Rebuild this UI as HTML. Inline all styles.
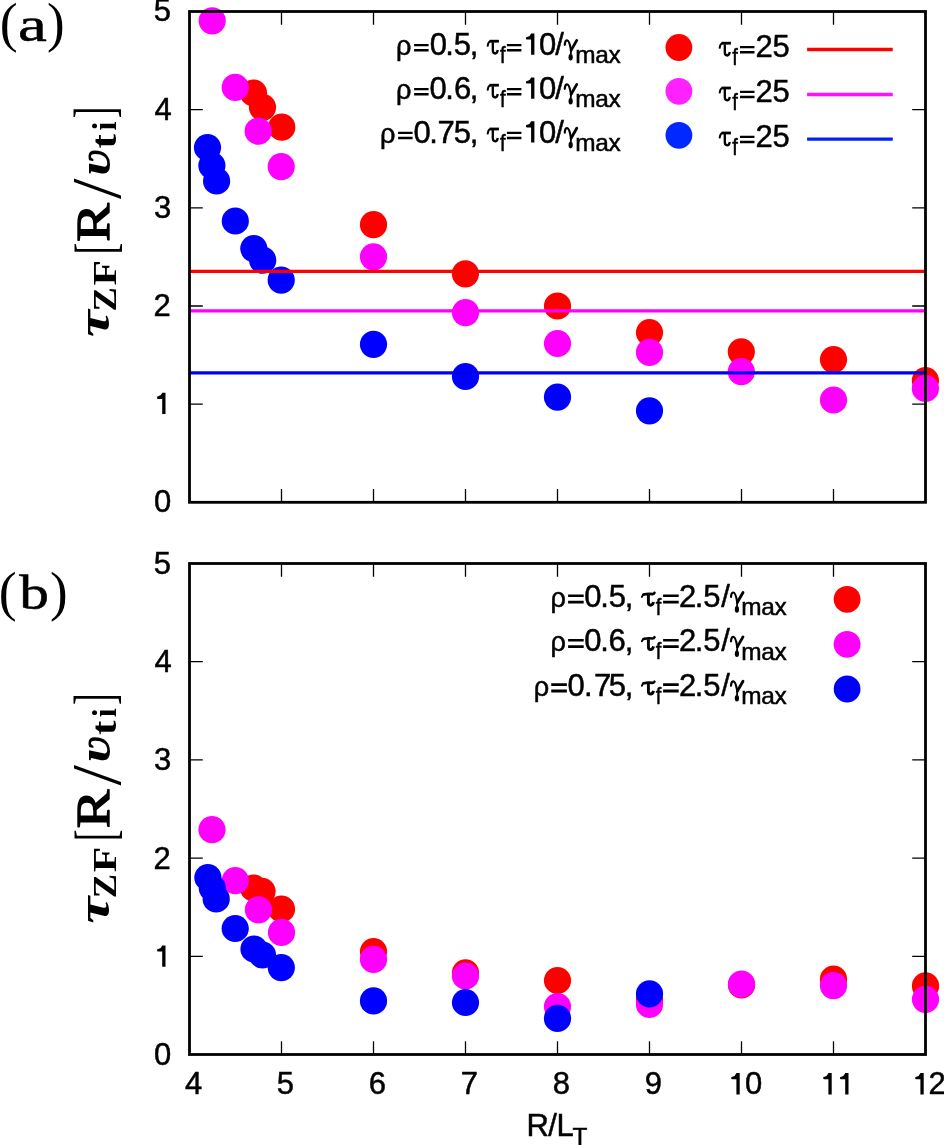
<!DOCTYPE html>
<html><head><meta charset="utf-8"><title>plot</title><style>html,body{margin:0;padding:0;background:#fff;overflow:hidden;}svg{display:block;}</style></head>
<body><svg width="944" height="1145" viewBox="0 0 944 1145">
<rect width="944" height="1145" fill="#fff"/>
<circle cx="253.5" cy="93" r="13.6" fill="#ff0000"/>
<circle cx="262.5" cy="107.35" r="13.6" fill="#ff0000"/>
<circle cx="281.75" cy="127.2" r="13.6" fill="#ff0000"/>
<circle cx="373.5" cy="224.7" r="13.6" fill="#ff0000"/>
<circle cx="465.4" cy="273.8" r="13.6" fill="#ff0000"/>
<circle cx="557.5" cy="306" r="13.6" fill="#ff0000"/>
<circle cx="649.5" cy="332.6" r="13.6" fill="#ff0000"/>
<circle cx="741.3" cy="351.8" r="13.6" fill="#ff0000"/>
<circle cx="833.5" cy="359.6" r="13.6" fill="#ff0000"/>
<circle cx="925.4" cy="380.6" r="13.6" fill="#ff0000"/>
<circle cx="212.2" cy="20.8" r="13.6" fill="#ff00ff"/>
<circle cx="235.25" cy="87.4" r="13.6" fill="#ff00ff"/>
<circle cx="258.2" cy="131.2" r="13.6" fill="#ff00ff"/>
<circle cx="281.2" cy="166.6" r="13.6" fill="#ff00ff"/>
<circle cx="373.5" cy="256.8" r="13.6" fill="#ff00ff"/>
<circle cx="465.5" cy="312.6" r="13.6" fill="#ff00ff"/>
<circle cx="557.5" cy="343.5" r="13.6" fill="#ff00ff"/>
<circle cx="649.5" cy="352.4" r="13.6" fill="#ff00ff"/>
<circle cx="741.3" cy="371.7" r="13.6" fill="#ff00ff"/>
<circle cx="833.5" cy="400" r="13.6" fill="#ff00ff"/>
<circle cx="925.4" cy="388.5" r="13.6" fill="#ff00ff"/>
<circle cx="207.5" cy="147.5" r="13.6" fill="#0000ff"/>
<circle cx="211.9" cy="165.6" r="13.6" fill="#0000ff"/>
<circle cx="216.6" cy="181" r="13.6" fill="#0000ff"/>
<circle cx="235.3" cy="221" r="13.6" fill="#0000ff"/>
<circle cx="253.8" cy="248.6" r="13.6" fill="#0000ff"/>
<circle cx="262.7" cy="260.2" r="13.6" fill="#0000ff"/>
<circle cx="281.2" cy="280.1" r="13.6" fill="#0000ff"/>
<circle cx="373.5" cy="344.3" r="13.6" fill="#0000ff"/>
<circle cx="465.5" cy="376.5" r="13.6" fill="#0000ff"/>
<circle cx="557.5" cy="397.1" r="13.6" fill="#0000ff"/>
<circle cx="649.5" cy="410.8" r="13.6" fill="#0000ff"/>
<path d="M189.5 271.45H925.5" stroke="#ff0000" stroke-width="3.3"/>
<path d="M189.5 310.8H925.5" stroke="#ff00ff" stroke-width="3.3"/>
<path d="M189.5 372.8H925.5" stroke="#0000f0" stroke-width="3.3"/>
<path d="M281.50 502.3V489.0M281.50 11.5V24.8M373.50 502.3V489.0M373.50 11.5V24.8M465.50 502.3V489.0M465.50 11.5V24.8M557.50 502.3V489.0M557.50 11.5V24.8M649.50 502.3V489.0M649.50 11.5V24.8M741.50 502.3V489.0M741.50 11.5V24.8M833.50 502.3V489.0M833.50 11.5V24.8M189.5 404.14H202.8M925.5 404.14H912.2M189.5 305.98H202.8M925.5 305.98H912.2M189.5 207.82H202.8M925.5 207.82H912.2M189.5 109.66H202.8M925.5 109.66H912.2" stroke="#000" stroke-width="1.3" fill="none"/>
<rect x="189.5" y="11.5" width="736.0" height="490.8" fill="none" stroke="#000" stroke-width="2.8"/>
<path d="M162.2 414.04V398.94H157.9Q157 398.94 157 397.64Q157 396.34 158.3 396.34Q161 395.94 162.3 392.74H165.5V414.04Z" fill="#000"/>
<path d="M414.1 43.95h14.5v2.2h-14.5zM414.1 48.95h14.5v2.55h-14.5z" fill="#000"/>
<path d="M489.5 41.2H498.9" stroke="#000" stroke-width="2.8" fill="none"/>
<path d="M487.7 45.8Q488.4 41.3 490.5 41.2" stroke="#000" stroke-width="2.0" fill="none" stroke-linecap="round"/>
<path d="M492.8 42.2V50.3Q492.8 53.5 495.2 53.5Q497.1 53.5 497.8 50.1" stroke="#000" stroke-width="2.3" fill="none"/>
<path d="M506.9 43.95h14.5v2.2h-14.5zM506.9 48.95h14.5v2.55h-14.5z" fill="#000"/>
<path d="M531.1 54.7V39.6H526.8Q525.9 39.6 525.9 38.3Q525.9 37 527.2 37Q529.9 36.6 531.2 33.4H534.4V54.7Z" fill="#000"/>
<path d="M564.75 44.8Q565.05 40.4 567.15 40.4Q569.35 40.4 571.05 50.4" stroke="#000" stroke-width="2.2" fill="none" stroke-linecap="round"/>
<path d="M576.75 40.4L571.05 50.4" stroke="#000" stroke-width="2.8" fill="none" stroke-linecap="round"/>
<path d="M571.05 50.2L570.75 54.7" stroke="#000" stroke-width="1.8" fill="none"/>
<ellipse cx="570.65" cy="57.3" rx="2.1" ry="3.3" fill="#000"/>
<path d="M414.1 87.95h14.5v2.2h-14.5zM414.1 92.95h14.5v2.55h-14.5z" fill="#000"/>
<path d="M489.5 85.2H498.9" stroke="#000" stroke-width="2.8" fill="none"/>
<path d="M487.7 89.8Q488.4 85.3 490.5 85.2" stroke="#000" stroke-width="2.0" fill="none" stroke-linecap="round"/>
<path d="M492.8 86.2V94.3Q492.8 97.5 495.2 97.5Q497.1 97.5 497.8 94.1" stroke="#000" stroke-width="2.3" fill="none"/>
<path d="M506.9 87.95h14.5v2.2h-14.5zM506.9 92.95h14.5v2.55h-14.5z" fill="#000"/>
<path d="M531.1 98.7V83.6H526.8Q525.9 83.6 525.9 82.3Q525.9 81 527.2 81Q529.9 80.6 531.2 77.4H534.4V98.7Z" fill="#000"/>
<path d="M564.75 88.8Q565.05 84.4 567.15 84.4Q569.35 84.4 571.05 94.4" stroke="#000" stroke-width="2.2" fill="none" stroke-linecap="round"/>
<path d="M576.75 84.4L571.05 94.4" stroke="#000" stroke-width="2.8" fill="none" stroke-linecap="round"/>
<path d="M571.05 94.2L570.75 98.7" stroke="#000" stroke-width="1.8" fill="none"/>
<ellipse cx="570.65" cy="101.3" rx="2.1" ry="3.3" fill="#000"/>
<path d="M398.1 131.75h14.5v2.2h-14.5zM398.1 136.75h14.5v2.55h-14.5z" fill="#000"/>
<path d="M489.5 129H498.9" stroke="#000" stroke-width="2.8" fill="none"/>
<path d="M487.7 133.6Q488.4 129.1 490.5 129" stroke="#000" stroke-width="2.0" fill="none" stroke-linecap="round"/>
<path d="M492.8 130V138.1Q492.8 141.3 495.2 141.3Q497.1 141.3 497.8 137.9" stroke="#000" stroke-width="2.3" fill="none"/>
<path d="M506.9 131.75h14.5v2.2h-14.5zM506.9 136.75h14.5v2.55h-14.5z" fill="#000"/>
<path d="M531.1 142.5V127.4H526.8Q525.9 127.4 525.9 126.1Q525.9 124.8 527.2 124.8Q529.9 124.4 531.2 121.2H534.4V142.5Z" fill="#000"/>
<path d="M564.75 132.6Q565.05 128.2 567.15 128.2Q569.35 128.2 571.05 138.2" stroke="#000" stroke-width="2.2" fill="none" stroke-linecap="round"/>
<path d="M576.75 128.2L571.05 138.2" stroke="#000" stroke-width="2.8" fill="none" stroke-linecap="round"/>
<path d="M571.05 138L570.75 142.5" stroke="#000" stroke-width="1.8" fill="none"/>
<ellipse cx="570.65" cy="145.1" rx="2.1" ry="3.3" fill="#000"/>
<circle cx="678.9" cy="47.5" r="13.4" fill="#ff0000"/>
<circle cx="678.9" cy="91.3" r="13.4" fill="#ff22ff"/>
<circle cx="678.9" cy="135.3" r="13.4" fill="#0028ff"/>
<path d="M721.5 43.2H730.9" stroke="#000" stroke-width="2.8" fill="none"/>
<path d="M719.7 47.8Q720.4 43.3 722.5 43.2" stroke="#000" stroke-width="2.0" fill="none" stroke-linecap="round"/>
<path d="M724.8 44.2V52.3Q724.8 55.5 727.2 55.5Q729.1 55.5 729.8 52.1" stroke="#000" stroke-width="2.3" fill="none"/>
<path d="M740 45.95h14.5v2.2h-14.5zM740 50.95h14.5v2.55h-14.5z" fill="#000"/>
<path d="M721.5 88H730.9" stroke="#000" stroke-width="2.8" fill="none"/>
<path d="M719.7 92.6Q720.4 88.1 722.5 88" stroke="#000" stroke-width="2.0" fill="none" stroke-linecap="round"/>
<path d="M724.8 89V97.1Q724.8 100.3 727.2 100.3Q729.1 100.3 729.8 96.9" stroke="#000" stroke-width="2.3" fill="none"/>
<path d="M740 90.75h14.5v2.2h-14.5zM740 95.75h14.5v2.55h-14.5z" fill="#000"/>
<path d="M721.5 133H730.9" stroke="#000" stroke-width="2.8" fill="none"/>
<path d="M719.7 137.6Q720.4 133.1 722.5 133" stroke="#000" stroke-width="2.0" fill="none" stroke-linecap="round"/>
<path d="M724.8 134V142.1Q724.8 145.3 727.2 145.3Q729.1 145.3 729.8 141.9" stroke="#000" stroke-width="2.3" fill="none"/>
<path d="M740 135.75h14.5v2.2h-14.5zM740 140.75h14.5v2.55h-14.5z" fill="#000"/>
<path d="M807.1 49.5H892.75" stroke="#ff0000" stroke-width="3.4"/>
<path d="M807.1 94.5H892.75" stroke="#ff10ff" stroke-width="3.4"/>
<path d="M807.1 139.1H892.75" stroke="#0020f8" stroke-width="3.4"/>
<circle cx="253.5" cy="888" r="13.6" fill="#ff0000"/>
<circle cx="262" cy="891.3" r="13.6" fill="#ff0000"/>
<circle cx="281.5" cy="909" r="13.6" fill="#ff0000"/>
<circle cx="373.5" cy="951.7" r="13.6" fill="#ff0000"/>
<circle cx="465.5" cy="972.8" r="13.6" fill="#ff0000"/>
<circle cx="557.5" cy="980.5" r="13.6" fill="#ff0000"/>
<circle cx="649.5" cy="999" r="13.6" fill="#ff0000"/>
<circle cx="741.5" cy="985" r="13.6" fill="#ff0000"/>
<circle cx="833.5" cy="979.2" r="13.6" fill="#ff0000"/>
<circle cx="925.5" cy="985.9" r="13.6" fill="#ff0000"/>
<circle cx="212" cy="829.7" r="13.6" fill="#ff00ff"/>
<circle cx="235.3" cy="880.7" r="13.6" fill="#ff00ff"/>
<circle cx="258.4" cy="909.8" r="13.6" fill="#ff00ff"/>
<circle cx="281.5" cy="932.4" r="13.6" fill="#ff00ff"/>
<circle cx="373.5" cy="959.4" r="13.6" fill="#ff00ff"/>
<circle cx="465.5" cy="976" r="13.6" fill="#ff00ff"/>
<circle cx="557.5" cy="1006.5" r="13.6" fill="#ff00ff"/>
<circle cx="649.5" cy="1004.4" r="13.6" fill="#ff00ff"/>
<circle cx="741.5" cy="984.2" r="13.6" fill="#ff00ff"/>
<circle cx="833.5" cy="985.6" r="13.6" fill="#ff00ff"/>
<circle cx="925.5" cy="999.3" r="13.6" fill="#ff00ff"/>
<circle cx="207.9" cy="877.5" r="13.6" fill="#0000ff"/>
<circle cx="212.3" cy="888" r="13.6" fill="#0000ff"/>
<circle cx="216.2" cy="898.9" r="13.6" fill="#0000ff"/>
<circle cx="235.2" cy="928.5" r="13.6" fill="#0000ff"/>
<circle cx="254" cy="949" r="13.6" fill="#0000ff"/>
<circle cx="262.5" cy="955" r="13.6" fill="#0000ff"/>
<circle cx="281.3" cy="967.6" r="13.6" fill="#0000ff"/>
<circle cx="373.5" cy="1000.9" r="13.6" fill="#0000ff"/>
<circle cx="465.5" cy="1002.5" r="13.6" fill="#0000ff"/>
<circle cx="557.5" cy="1018.4" r="13.6" fill="#0000ff"/>
<circle cx="649.5" cy="993.8" r="13.6" fill="#0000ff"/>
<path d="M281.50 1054.5V1041.2M281.50 563.5V576.8M373.50 1054.5V1041.2M373.50 563.5V576.8M465.50 1054.5V1041.2M465.50 563.5V576.8M557.50 1054.5V1041.2M557.50 563.5V576.8M649.50 1054.5V1041.2M649.50 563.5V576.8M741.50 1054.5V1041.2M741.50 563.5V576.8M833.50 1054.5V1041.2M833.50 563.5V576.8M189.5 956.30H202.8M925.5 956.30H912.2M189.5 858.10H202.8M925.5 858.10H912.2M189.5 759.90H202.8M925.5 759.90H912.2M189.5 661.70H202.8M925.5 661.70H912.2" stroke="#000" stroke-width="1.3" fill="none"/>
<rect x="189.5" y="563.5" width="736.0" height="491.0" fill="none" stroke="#000" stroke-width="2.8"/>
<path d="M162.2 966.7V951.6H157.9Q157 951.6 157 950.3Q157 949 158.3 949Q161 948.6 162.3 945.4H165.5V966.7Z" fill="#000"/>
<path d="M568.1 594.5h15.6v2.6h-15.6zM568.1 600.8h15.6v2.8h-15.6z" fill="#000"/>
<path d="M643.5 594.5Q648.1 593.4 652.7 594.1Q654 594.1 654.5 592.8" stroke="#000" stroke-width="2.6" fill="none" stroke-linecap="round"/>
<path d="M641.9 596.9Q642.5 594.6 644.5 594.3" stroke="#000" stroke-width="2.0" fill="none" stroke-linecap="round"/>
<path d="M648.4 594.8V602.6Q648.4 605.2 650.7 605.2Q652.7 605.2 653.5 602" stroke="#000" stroke-width="2.9" fill="none"/>
<path d="M663.1 594.5h15.6v2.6h-15.6zM663.1 600.8h15.6v2.8h-15.6z" fill="#000"/>
<path d="M731 596.9Q731.3 592.5 733.4 592.5Q735.6 592.5 737.3 602.5" stroke="#000" stroke-width="2.2" fill="none" stroke-linecap="round"/>
<path d="M743 592.5L737.3 602.5" stroke="#000" stroke-width="2.8" fill="none" stroke-linecap="round"/>
<path d="M737.3 602.3L737 606.8" stroke="#000" stroke-width="1.8" fill="none"/>
<ellipse cx="736.9" cy="609.4" rx="2.1" ry="3.3" fill="#000"/>
<path d="M568.1 638.9h15.6v2.6h-15.6zM568.1 645.2h15.6v2.8h-15.6z" fill="#000"/>
<path d="M643.5 638.9Q648.1 637.8 652.7 638.5Q654 638.5 654.5 637.2" stroke="#000" stroke-width="2.6" fill="none" stroke-linecap="round"/>
<path d="M641.9 641.3Q642.5 639 644.5 638.7" stroke="#000" stroke-width="2.0" fill="none" stroke-linecap="round"/>
<path d="M648.4 639.2V647Q648.4 649.6 650.7 649.6Q652.7 649.6 653.5 646.4" stroke="#000" stroke-width="2.9" fill="none"/>
<path d="M663.1 638.9h15.6v2.6h-15.6zM663.1 645.2h15.6v2.8h-15.6z" fill="#000"/>
<path d="M731 641.3Q731.3 636.9 733.4 636.9Q735.6 636.9 737.3 646.9" stroke="#000" stroke-width="2.2" fill="none" stroke-linecap="round"/>
<path d="M743 636.9L737.3 646.9" stroke="#000" stroke-width="2.8" fill="none" stroke-linecap="round"/>
<path d="M737.3 646.7L737 651.2" stroke="#000" stroke-width="1.8" fill="none"/>
<ellipse cx="736.9" cy="653.8" rx="2.1" ry="3.3" fill="#000"/>
<path d="M551.25 683.3h15.6v2.6h-15.6zM551.25 689.6h15.6v2.8h-15.6z" fill="#000"/>
<path d="M643.5 683.3Q648.1 682.2 652.7 682.9Q654 682.9 654.5 681.6" stroke="#000" stroke-width="2.6" fill="none" stroke-linecap="round"/>
<path d="M641.9 685.7Q642.5 683.4 644.5 683.1" stroke="#000" stroke-width="2.0" fill="none" stroke-linecap="round"/>
<path d="M648.4 683.6V691.4Q648.4 694 650.7 694Q652.7 694 653.5 690.8" stroke="#000" stroke-width="2.9" fill="none"/>
<path d="M663.1 683.3h15.6v2.6h-15.6zM663.1 689.6h15.6v2.8h-15.6z" fill="#000"/>
<path d="M731 685.7Q731.3 681.3 733.4 681.3Q735.6 681.3 737.3 691.3" stroke="#000" stroke-width="2.2" fill="none" stroke-linecap="round"/>
<path d="M743 681.3L737.3 691.3" stroke="#000" stroke-width="2.8" fill="none" stroke-linecap="round"/>
<path d="M737.3 691.1L737 695.6" stroke="#000" stroke-width="1.8" fill="none"/>
<ellipse cx="736.9" cy="698.2" rx="2.1" ry="3.3" fill="#000"/>
<circle cx="847.1" cy="599.3" r="13.4" fill="#ff0000"/>
<circle cx="847.1" cy="644.3" r="13.4" fill="#ff00ff"/>
<circle cx="847.1" cy="689" r="13.4" fill="#0000ff"/>
<path d="M736.4 1094.4V1079.3H732.1Q731.2 1079.3 731.2 1078Q731.2 1076.7 732.5 1076.7Q735.2 1076.3 736.5 1073.1H739.7V1094.4Z" fill="#000"/>
<path d="M828.4 1094.4V1079.3H824.1Q823.2 1079.3 823.2 1078Q823.2 1076.7 824.5 1076.7Q827.2 1076.3 828.5 1073.1H831.7V1094.4Z" fill="#000"/>
<path d="M845.2 1094.4V1079.3H840.9Q840 1079.3 840 1078Q840 1076.7 841.3 1076.7Q844 1076.3 845.3 1073.1H848.5V1094.4Z" fill="#000"/>
<path d="M920.4 1094.4V1079.3H916.1Q915.2 1079.3 915.2 1078Q915.2 1076.7 916.5 1076.7Q919.2 1076.3 920.5 1073.1H923.7V1094.4Z" fill="#000"/>
<g opacity="0.999">
<text font-family="Liberation Sans, sans-serif" stroke="#000" stroke-width="0.5"><tspan x="153.89" y="512.2" font-size="31.0">0</tspan></text>
<text font-family="Liberation Sans, sans-serif" stroke="#000" stroke-width="0.5"></text>
<text font-family="Liberation Sans, sans-serif" stroke="#000" stroke-width="0.5"><tspan x="153.54" y="315.88" font-size="31.0">2</tspan></text>
<text font-family="Liberation Sans, sans-serif" stroke="#000" stroke-width="0.5"><tspan x="153.92" y="217.72" font-size="31.0">3</tspan></text>
<text font-family="Liberation Sans, sans-serif" stroke="#000" stroke-width="0.5"><tspan x="154.39" y="119.56" font-size="31.0">4</tspan></text>
<text font-family="Liberation Sans, sans-serif" stroke="#000" stroke-width="0.5"><tspan x="153.86" y="21.4" font-size="31.0">5</tspan></text>
<text transform="matrix(0.01325,0,0,0.01394,396.001,54.726)" font-family="Liberation Sans, sans-serif"  font-size="2048" stroke="#000" stroke-width="36.79" stroke-linejoin="round">&#961;</text>
<text transform="matrix(0.00976,0,0,0.01127,499.967,62.850)" font-family="Liberation Sans, sans-serif"  font-size="2048" stroke="#000" stroke-width="47.68" stroke-linejoin="round">f</text>
<text font-family="Liberation Sans, sans-serif" stroke="#000" stroke-width="0.5"><tspan x="429.69" y="54.7" font-size="31.0">0</tspan><tspan x="445.17" y="54.7" font-size="31.0">.</tspan><tspan x="453.76" y="54.7" font-size="31.0">5</tspan><tspan x="469.71" y="54.7" font-size="31.0">,</tspan><tspan x="539.09" y="54.7" font-size="31.0">0</tspan><tspan x="555.3" y="54.7" font-size="31.0">/</tspan><tspan x="575.28" y="63.1" font-size="24.4">m</tspan><tspan x="595.21" y="63.1" font-size="24.4">a</tspan><tspan x="608.48" y="63.1" font-size="24.4">x</tspan></text>
<text transform="matrix(0.01325,0,0,0.01394,396.001,98.726)" font-family="Liberation Sans, sans-serif"  font-size="2048" stroke="#000" stroke-width="36.79" stroke-linejoin="round">&#961;</text>
<text transform="matrix(0.00976,0,0,0.01127,499.967,106.850)" font-family="Liberation Sans, sans-serif"  font-size="2048" stroke="#000" stroke-width="47.68" stroke-linejoin="round">f</text>
<text font-family="Liberation Sans, sans-serif" stroke="#000" stroke-width="0.5"><tspan x="429.49" y="98.7" font-size="31.0">0</tspan><tspan x="445.17" y="98.7" font-size="31.0">.</tspan><tspan x="453.93" y="98.7" font-size="31.0">6</tspan><tspan x="469.71" y="98.7" font-size="31.0">,</tspan><tspan x="539.09" y="98.7" font-size="31.0">0</tspan><tspan x="555.3" y="98.7" font-size="31.0">/</tspan><tspan x="575.28" y="107.1" font-size="24.4">m</tspan><tspan x="595.21" y="107.1" font-size="24.4">a</tspan><tspan x="608.48" y="107.1" font-size="24.4">x</tspan></text>
<text transform="matrix(0.01325,0,0,0.01394,380.001,142.526)" font-family="Liberation Sans, sans-serif"  font-size="2048" stroke="#000" stroke-width="36.79" stroke-linejoin="round">&#961;</text>
<text transform="matrix(0.00976,0,0,0.01127,499.967,150.650)" font-family="Liberation Sans, sans-serif"  font-size="2048" stroke="#000" stroke-width="47.68" stroke-linejoin="round">f</text>
<text font-family="Liberation Sans, sans-serif" stroke="#000" stroke-width="0.5"><tspan x="413.39" y="142.5" font-size="31.0">0</tspan><tspan x="429.17" y="142.5" font-size="31.0">.</tspan><tspan x="437.41" y="142.5" font-size="31.0">7</tspan><tspan x="453.86" y="142.5" font-size="31.0">5</tspan><tspan x="469.71" y="142.5" font-size="31.0">,</tspan><tspan x="539.09" y="142.5" font-size="31.0">0</tspan><tspan x="555.3" y="142.5" font-size="31.0">/</tspan><tspan x="575.28" y="150.9" font-size="24.4">m</tspan><tspan x="595.21" y="150.9" font-size="24.4">a</tspan><tspan x="608.48" y="150.9" font-size="24.4">x</tspan></text>
<text transform="matrix(0.00976,0,0,0.01127,732.167,64.850)" font-family="Liberation Sans, sans-serif"  font-size="2048" stroke="#000" stroke-width="47.68" stroke-linejoin="round">f</text>
<text font-family="Liberation Sans, sans-serif" stroke="#000" stroke-width="0.5"><tspan x="755.44" y="56.7" font-size="31.0">2</tspan><tspan x="772.51" y="56.7" font-size="31.0">5</tspan></text>
<text transform="matrix(0.00976,0,0,0.01127,732.167,109.650)" font-family="Liberation Sans, sans-serif"  font-size="2048" stroke="#000" stroke-width="47.68" stroke-linejoin="round">f</text>
<text font-family="Liberation Sans, sans-serif" stroke="#000" stroke-width="0.5"><tspan x="755.44" y="101.5" font-size="31.0">2</tspan><tspan x="772.51" y="101.5" font-size="31.0">5</tspan></text>
<text transform="matrix(0.00976,0,0,0.01127,732.167,154.650)" font-family="Liberation Sans, sans-serif"  font-size="2048" stroke="#000" stroke-width="47.68" stroke-linejoin="round">f</text>
<text font-family="Liberation Sans, sans-serif" stroke="#000" stroke-width="0.5"><tspan x="755.44" y="146.5" font-size="31.0">2</tspan><tspan x="772.51" y="146.5" font-size="31.0">5</tspan></text>
<text font-family="Liberation Sans, sans-serif" stroke="#000" stroke-width="0.5"><tspan x="153.89" y="1064.9" font-size="31.0">0</tspan></text>
<text font-family="Liberation Sans, sans-serif" stroke="#000" stroke-width="0.5"></text>
<text font-family="Liberation Sans, sans-serif" stroke="#000" stroke-width="0.5"><tspan x="153.54" y="868.5" font-size="31.0">2</tspan></text>
<text font-family="Liberation Sans, sans-serif" stroke="#000" stroke-width="0.5"><tspan x="153.92" y="770.3" font-size="31.0">3</tspan></text>
<text font-family="Liberation Sans, sans-serif" stroke="#000" stroke-width="0.5"><tspan x="154.39" y="672.1" font-size="31.0">4</tspan></text>
<text font-family="Liberation Sans, sans-serif" stroke="#000" stroke-width="0.5"><tspan x="153.86" y="573.9" font-size="31.0">5</tspan></text>
<text transform="matrix(0.01325,0,0,0.01394,550.601,606.826)" font-family="Liberation Sans, sans-serif"  font-size="2048" stroke="#000" stroke-width="36.79" stroke-linejoin="round">&#961;</text>
<text transform="matrix(0.00976,0,0,0.01127,655.767,614.950)" font-family="Liberation Sans, sans-serif"  font-size="2048" stroke="#000" stroke-width="47.68" stroke-linejoin="round">f</text>
<text font-family="Liberation Sans, sans-serif" stroke="#000" stroke-width="0.5"><tspan x="584.19" y="606.8" font-size="31.0">0</tspan><tspan x="600.27" y="606.8" font-size="31.0">.</tspan><tspan x="608.76" y="606.8" font-size="31.0">5</tspan><tspan x="624.71" y="606.8" font-size="31.0">,</tspan><tspan x="679.04" y="606.8" font-size="31.0">2</tspan><tspan x="694.67" y="606.8" font-size="31.0">.</tspan><tspan x="703.16" y="606.8" font-size="31.0">5</tspan><tspan x="721.25" y="606.8" font-size="31.0">/</tspan><tspan x="741.18" y="615.2" font-size="24.4">m</tspan><tspan x="761.16" y="615.2" font-size="24.4">a</tspan><tspan x="774.43" y="615.2" font-size="24.4">x</tspan></text>
<text transform="matrix(0.01325,0,0,0.01394,550.601,651.226)" font-family="Liberation Sans, sans-serif"  font-size="2048" stroke="#000" stroke-width="36.79" stroke-linejoin="round">&#961;</text>
<text transform="matrix(0.00976,0,0,0.01127,655.767,659.350)" font-family="Liberation Sans, sans-serif"  font-size="2048" stroke="#000" stroke-width="47.68" stroke-linejoin="round">f</text>
<text font-family="Liberation Sans, sans-serif" stroke="#000" stroke-width="0.5"><tspan x="584.19" y="651.2" font-size="31.0">0</tspan><tspan x="600.27" y="651.2" font-size="31.0">.</tspan><tspan x="608.43" y="651.2" font-size="31.0">6</tspan><tspan x="624.71" y="651.2" font-size="31.0">,</tspan><tspan x="679.04" y="651.2" font-size="31.0">2</tspan><tspan x="694.67" y="651.2" font-size="31.0">.</tspan><tspan x="703.16" y="651.2" font-size="31.0">5</tspan><tspan x="721.25" y="651.2" font-size="31.0">/</tspan><tspan x="741.18" y="659.6" font-size="24.4">m</tspan><tspan x="761.16" y="659.6" font-size="24.4">a</tspan><tspan x="774.43" y="659.6" font-size="24.4">x</tspan></text>
<text transform="matrix(0.01325,0,0,0.01394,533.751,695.626)" font-family="Liberation Sans, sans-serif"  font-size="2048" stroke="#000" stroke-width="36.79" stroke-linejoin="round">&#961;</text>
<text transform="matrix(0.00976,0,0,0.01127,655.767,703.750)" font-family="Liberation Sans, sans-serif"  font-size="2048" stroke="#000" stroke-width="47.68" stroke-linejoin="round">f</text>
<text font-family="Liberation Sans, sans-serif" stroke="#000" stroke-width="0.5"><tspan x="567.54" y="695.6" font-size="31.0">0</tspan><tspan x="584.07" y="695.6" font-size="31.0">.</tspan><tspan x="594.01" y="695.6" font-size="31.0">7</tspan><tspan x="608.76" y="695.6" font-size="31.0">5</tspan><tspan x="624.71" y="695.6" font-size="31.0">,</tspan><tspan x="679.04" y="695.6" font-size="31.0">2</tspan><tspan x="694.67" y="695.6" font-size="31.0">.</tspan><tspan x="703.16" y="695.6" font-size="31.0">5</tspan><tspan x="721.25" y="695.6" font-size="31.0">/</tspan><tspan x="741.18" y="704" font-size="24.4">m</tspan><tspan x="761.16" y="704" font-size="24.4">a</tspan><tspan x="774.43" y="704" font-size="24.4">x</tspan></text>
<text font-family="Liberation Sans, sans-serif" stroke="#000" stroke-width="0.5"><tspan x="184.88" y="1094.4" font-size="31.0">4</tspan></text>
<text font-family="Liberation Sans, sans-serif" stroke="#000" stroke-width="0.5"><tspan x="276.81" y="1094.4" font-size="31.0">5</tspan></text>
<text font-family="Liberation Sans, sans-serif" stroke="#000" stroke-width="0.5"><tspan x="368.67" y="1094.4" font-size="31.0">6</tspan></text>
<text font-family="Liberation Sans, sans-serif" stroke="#000" stroke-width="0.5"><tspan x="460.76" y="1094.4" font-size="31.0">7</tspan></text>
<text font-family="Liberation Sans, sans-serif" stroke="#000" stroke-width="0.5"><tspan x="552.78" y="1094.4" font-size="31.0">8</tspan></text>
<text font-family="Liberation Sans, sans-serif" stroke="#000" stroke-width="0.5"><tspan x="644.79" y="1094.4" font-size="31.0">9</tspan></text>
<text font-family="Liberation Sans, sans-serif" stroke="#000" stroke-width="0.5"><tspan x="745.04" y="1094.4" font-size="31.0">0</tspan></text>
<text font-family="Liberation Sans, sans-serif" stroke="#000" stroke-width="0.5"></text>
<text font-family="Liberation Sans, sans-serif" stroke="#000" stroke-width="0.5"><tspan x="928.54" y="1094.4" font-size="31.0">2</tspan></text>
<text font-family="Liberation Sans, sans-serif" stroke="#000" stroke-width="0.5"><tspan x="526.56" y="1135.9" font-size="31.0">R</tspan><tspan x="548.3" y="1135.9" font-size="31.0">/</tspan><tspan x="556.56" y="1135.9" font-size="31.0">L</tspan></text>
<text font-family="Liberation Sans, sans-serif" stroke="#000" stroke-width="0.5"><tspan x="572.55" y="1145.3" font-size="24.4">T</tspan></text>
<text transform="matrix(0.02624,0,0,0.02649,-0.261,41.448)" font-family="Liberation Serif, serif"  font-size="2048">(</text>
<text transform="matrix(0.03177,0,0,0.02324,17.913,40.835)" font-family="Liberation Serif, serif"  font-size="2048" stroke="#000" stroke-width="22.08" stroke-linejoin="round">a</text>
<text transform="matrix(0.02586,0,0,0.02649,46.994,41.448)" font-family="Liberation Serif, serif"  font-size="2048">)</text>
<text transform="matrix(0.02624,0,0,0.02633,-1.361,609.919)" font-family="Liberation Serif, serif"  font-size="2048">(</text>
<text transform="matrix(0.02896,0,0,0.02359,19.300,609.128)" font-family="Liberation Serif, serif"  font-size="2048" stroke="#000" stroke-width="22.95" stroke-linejoin="round">b</text>
<text transform="matrix(0.02586,0,0,0.02633,49.994,609.919)" font-family="Liberation Serif, serif"  font-size="2048">)</text>
<text transform="matrix(0,-0.02982,0.02250,0,109.450,337.152)" font-family="Liberation Serif, serif" font-weight="bold" font-style="italic" font-size="2048">&#964;</text>
<text transform="matrix(0,-0.01778,0.01670,0,116.100,311.443)" font-family="Liberation Serif, serif" font-weight="bold" font-size="2048">Z</text>
<text transform="matrix(0,-0.02039,0.01670,0,116.100,285.514)" font-family="Liberation Serif, serif" font-weight="bold" font-size="2048">F</text>
<text transform="matrix(0,-0.01689,0.02779,0,113.686,254.267)" font-family="Liberation Serif, serif"  font-size="2048">[</text>
<text transform="matrix(0,-0.02822,0.02289,0,108.900,241.665)" font-family="Liberation Serif, serif"  font-size="2048" stroke="#000" stroke-width="62.95" stroke-linejoin="round">R</text>
<text transform="matrix(0,-0.03603,0.03409,0,120.418,198.900)" font-family="Liberation Serif, serif"  font-size="2048">/</text>
<text transform="matrix(0,-0.02678,0.02254,0,109.649,176.251)" font-family="Liberation Serif, serif" font-weight="bold" font-style="italic" font-size="2048">&#651;</text>
<text transform="matrix(0,-0.02109,0.01799,0,116.240,148.396)" font-family="Liberation Serif, serif" font-weight="bold" font-size="2048">t</text>
<text transform="matrix(0,-0.01559,0.01619,0,116.000,130.601)" font-family="Liberation Serif, serif" font-weight="bold" font-size="2048">i</text>
<text transform="matrix(0,-0.01711,0.02773,0,113.402,118.266)" font-family="Liberation Serif, serif"  font-size="2048">]</text>
<text transform="matrix(0,-0.02982,0.02250,0,109.450,923.852)" font-family="Liberation Serif, serif" font-weight="bold" font-style="italic" font-size="2048">&#964;</text>
<text transform="matrix(0,-0.01778,0.01670,0,116.100,898.143)" font-family="Liberation Serif, serif" font-weight="bold" font-size="2048">Z</text>
<text transform="matrix(0,-0.02039,0.01670,0,116.100,872.214)" font-family="Liberation Serif, serif" font-weight="bold" font-size="2048">F</text>
<text transform="matrix(0,-0.01689,0.02779,0,113.686,840.967)" font-family="Liberation Serif, serif"  font-size="2048">[</text>
<text transform="matrix(0,-0.02822,0.02289,0,108.900,828.365)" font-family="Liberation Serif, serif"  font-size="2048" stroke="#000" stroke-width="62.95" stroke-linejoin="round">R</text>
<text transform="matrix(0,-0.03603,0.03409,0,120.418,785.600)" font-family="Liberation Serif, serif"  font-size="2048">/</text>
<text transform="matrix(0,-0.02678,0.02254,0,109.649,762.951)" font-family="Liberation Serif, serif" font-weight="bold" font-style="italic" font-size="2048">&#651;</text>
<text transform="matrix(0,-0.02109,0.01799,0,116.240,735.096)" font-family="Liberation Serif, serif" font-weight="bold" font-size="2048">t</text>
<text transform="matrix(0,-0.01559,0.01619,0,116.000,717.301)" font-family="Liberation Serif, serif" font-weight="bold" font-size="2048">i</text>
<text transform="matrix(0,-0.01711,0.02773,0,113.402,704.966)" font-family="Liberation Serif, serif"  font-size="2048">]</text>
</g>
</svg></body></html>
